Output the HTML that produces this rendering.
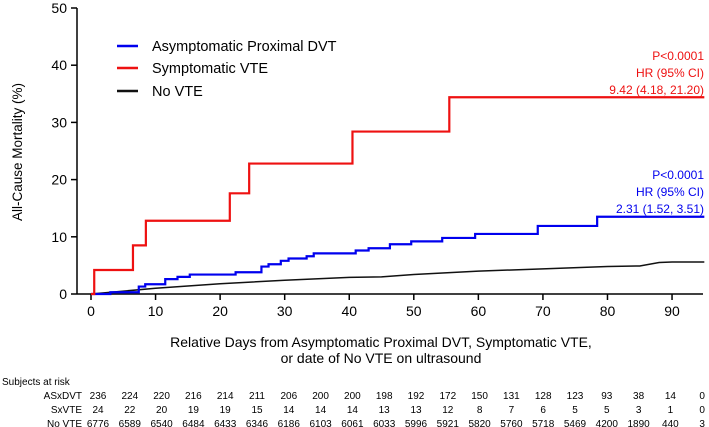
<!DOCTYPE html>
<html><head><meta charset="utf-8"><style>
body{margin:0;background:#fff;}
svg{display:block;font-family:"Liberation Sans",Arial,sans-serif;}
</style></head><body>
<svg id="chart" width="709" height="427" viewBox="0 0 709 427">
<g id="axes"></g>
<g id="series"></g>
<g font-size="14.5" fill="#000">
  <g><line x1="117" y1="46" x2="138" y2="46" stroke="#0000ee" stroke-width="2.5"/><text x="152" y="51">Asymptomatic Proximal DVT</text></g>
  <g><line x1="117" y1="68" x2="138" y2="68" stroke="#ee1111" stroke-width="2.5"/><text x="152" y="73">Symptomatic VTE</text></g>
  <g><line x1="117" y1="91" x2="138" y2="91" stroke="#111" stroke-width="2.5"/><text x="152" y="96">No VTE</text></g>
</g>
<g fill="#ee1111" font-size="12" text-anchor="end">
  <text x="704" y="60">P&lt;0.0001</text><text x="704" y="77">HR (95% CI)</text><text x="704" y="94">9.42 (4.18, 21.20)</text>
</g>
<g fill="#0000ee" font-size="12" text-anchor="end">
  <text x="704" y="179">P&lt;0.0001</text><text x="704" y="196">HR (95% CI)</text><text x="704" y="213">2.31 (1.52, 3.51)</text>
</g>
<text transform="translate(22,152) rotate(-90)" text-anchor="middle" font-size="13.5">All-Cause Mortality (%)</text>
<g font-size="14" text-anchor="middle">
  <text x="381" y="347">Relative Days from Asymptomatic Proximal DVT, Symptomatic VTE,</text>
  <text x="381" y="363">or date of No VTE on ultrasound</text>
</g>
<g id="risk" font-size="10"></g>
</svg>
<script>
const xTicks=[0,10,20,30,40,50,60,70,80,90];
const yTicks=[0,10,20,30,40,50];
const redDays=[0,0.5,6.5,8.5,21.5,24.5,40.5,55.5,95];
const redVals=[0,4.2,8.5,12.8,17.6,22.8,28.4,34.4,34.4];
const blueDays=[0,3,7.4,8.4,11.5,13.4,15.3,22.4,26.4,27.5,29.4,30.6,33.4,34.5,41,43,46.3,49.6,54.4,59.5,69.2,78.4,95];
const blueVals=[0,0.3,1.3,1.7,2.6,3.0,3.4,3.8,4.8,5.2,5.8,6.2,6.6,7.1,7.6,8.0,8.7,9.2,9.8,10.5,11.9,13.5,13.5];
const blackDays=[0,10,20,30,40,45,50,60,70,80,85,88,90,95];
const blackVals=[0,1.0,1.8,2.4,2.9,3.0,3.4,4.0,4.4,4.8,4.9,5.5,5.6,5.6];
const riskLabels=["ASxDVT","SxVTE","No VTE"];
const riskAS=[236,224,220,216,214,211,206,200,200,198,192,172,150,131,128,123,93,38,14,0];
const riskSx=[24,22,20,19,19,15,14,14,14,13,13,12,8,7,6,5,5,3,1,0];
const riskNo=[6776,6589,6540,6484,6433,6346,6186,6103,6061,6033,5996,5921,5820,5760,5718,5469,4200,1890,440,3];
const NS="http://www.w3.org/2000/svg";
const X=d=>91+d*6.456, Y=v=>294-v*5.72;
function mk(tag,attrs,parent,txt){const e=document.createElementNS(NS,tag);for(const k in attrs)e.setAttribute(k,attrs[k]);if(txt!==undefined)e.textContent=txt;parent.appendChild(e);return e;}
const axes=document.getElementById('axes');
let a=mk('line',{x1:77,y1:Y(50),x2:77,y2:294,stroke:'#000','stroke-width':1.5},axes);

a=mk('line',{x1:77,y1:294,x2:703,y2:294,stroke:'#000','stroke-width':1.5},axes);

yTicks.forEach(v=>{const t=mk('line',{x1:71,x2:77,y1:Y(v),y2:Y(v),stroke:'#000','stroke-width':1.5},axes);

const l=mk('text',{x:67,y:Y(v)+5,'text-anchor':'end','font-size':14},axes,v);
});
xTicks.forEach(v=>{const t=mk('line',{x1:X(v),x2:X(v),y1:294,y2:300,stroke:'#000','stroke-width':1.5},axes);

const l=mk('text',{x:X(v),y:316,'text-anchor':'middle','font-size':14},axes,v);
});
const ser=document.getElementById('series');
function step(days,vals,color,name,w){let d='M'+X(days[0])+','+Y(vals[0]);
for(let i=1;i<days.length;i++){d+=' H'+X(days[i])+' V'+Y(vals[i]);}
const p=mk('path',{d:d,fill:'none',stroke:color,'stroke-width':w},ser);
}
function line(days,vals,color,name,w){const pts=days.map((d,i)=>X(d)+','+Y(vals[i])).join(' ');
const p=mk('polyline',{points:pts,fill:'none',stroke:color,'stroke-width':w},ser);
}
line(blackDays,blackVals,'#111','no-vte-line',1.5);
step(blueDays,blueVals,'#0000ee','asxdvt-line',2.2);
step(redDays,redVals,'#ee1111','sxvte-line',2.2);
const risk=document.getElementById('risk');
let h=mk('text',{x:2,y:385},risk,'Subjects at risk');

[riskAS,riskSx,riskNo].forEach((row,r)=>{const y=399+r*14;
const l=mk('text',{x:82,y:y,'text-anchor':'end'},risk,riskLabels[r]);

row.forEach((v,i)=>{const c=mk('text',{x:98+i*31.8,y:y,'text-anchor':'middle'},risk,v);
});});
</script>
</body></html>
